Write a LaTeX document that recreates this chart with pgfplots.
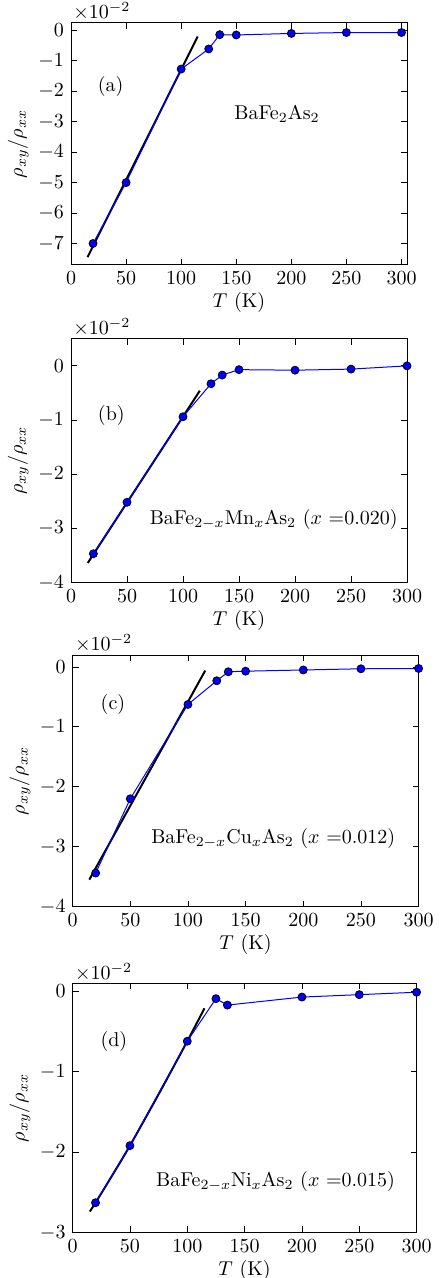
\documentclass[border=0pt]{standalone}
\usepackage{pgfplots}
\pgfplotsset{compat=1.18}
\pgfplotsset{
  panel/.style={
    scale only axis, anchor=north west,
    xmin=0, xmax=300, xtick={0,50,...,300},
    xlabel={$T$ (K)}, ylabel={$\rho_{xy}/\rho_{xx}$},
    major tick length=3pt, tick style={black, line width=0.4pt},
    axis line style={line width=0.5pt},
    xlabel style={yshift=3pt}, ylabel style={yshift=-2pt},
    clip=false,
  },
  fitline/.style={black, line width=1pt, no marks},
  datline/.style={blue, line width=0.5pt, mark=*, mark size=2pt,
    mark options={fill=blue, draw=black, line width=0.4pt}},
}
\newcommand{\expo}{\node[anchor=south west, inner sep=1pt] at (rel axis cs:0,1) {$\times10^{-2}$};}
\begin{document}
\begin{tikzpicture}
\useasboundingbox (0pt,0pt) rectangle (220pt,-639pt);

% (a)
\begin{axis}[panel, at={(35.5pt,-11.4pt)}, width=168pt, height=121pt,
  xmax=305, ymin=-7.7, ymax=0.25, ytick={-7,-6,...,0}]
\addplot[fitline] coordinates {(15,-7.45) (115,-0.2)};
\addplot[datline] coordinates {(20,-7.0) (50,-5.0) (100,-1.27) (125,-0.61) (135,-0.14) (150,-0.15) (200,-0.10) (250,-0.07) (300,-0.07)};
\node at (axis cs:36,-1.84) {(a)};
\node at (axis cs:187,-2.73) {BaFe$_2$As$_2$};
\expo
\end{axis}

% (b)
\begin{axis}[panel, at={(35.5pt,-169.4pt)}, width=168pt, height=121.8pt,
  ymin=-4, ymax=0.5, ytick={-4,-3,...,0}]
\addplot[fitline] coordinates {(15,-3.64) (115,-0.46)};
\addplot[datline] coordinates {(20,-3.47) (50,-2.52) (100,-0.94) (125,-0.33) (135,-0.17) (150,-0.07) (200,-0.08) (250,-0.06) (300,0.0)};
\node at (axis cs:36,-0.92) {(b)};
\node at (axis cs:181,-2.84) {BaFe$_{2-x}$Mn$_x$As$_2$ ($x$ =0.020)};
\expo
\end{axis}

% (c)
\begin{axis}[panel, at={(36.3pt,-327.5pt)}, width=173pt, height=125.8pt,
  ymin=-4, ymax=0.2, ytick={-4,-3,...,0}]
\addplot[fitline] coordinates {(14.5,-3.55) (115,-0.06)};
\addplot[datline] coordinates {(20,-3.44) (50,-2.20) (100,-0.625) (125,-0.23) (135,-0.08) (150,-0.07) (200,-0.05) (250,-0.03) (300,-0.025)};
\node at (axis cs:35,-0.63) {(c)};
\node at (axis cs:174,-2.86) {BaFe$_{2-x}$Cu$_x$As$_2$ ($x$ =0.012)};
\expo
\end{axis}

% (d)
\begin{axis}[panel, at={(36.3pt,-491.7pt)}, width=172pt, height=124.5pt,
  ymin=-3, ymax=0.1, ytick={-3,-2,...,0}]
\addplot[fitline, smooth] coordinates {(15,-2.74) (20,-2.63) (35,-2.28) (50,-1.92) (75,-1.28) (100,-0.62) (115,-0.21)};
\addplot[datline] coordinates {(20,-2.63) (50,-1.92) (100,-0.62) (125,-0.09) (135,-0.17) (200,-0.07) (250,-0.04) (300,-0.01)};
\node at (axis cs:36,-0.62) {(d)};
\node at (axis cs:177,-2.37) {BaFe$_{2-x}$Ni$_x$As$_2$ ($x$ =0.015)};
\expo
\end{axis}
\end{tikzpicture}
\end{document}
